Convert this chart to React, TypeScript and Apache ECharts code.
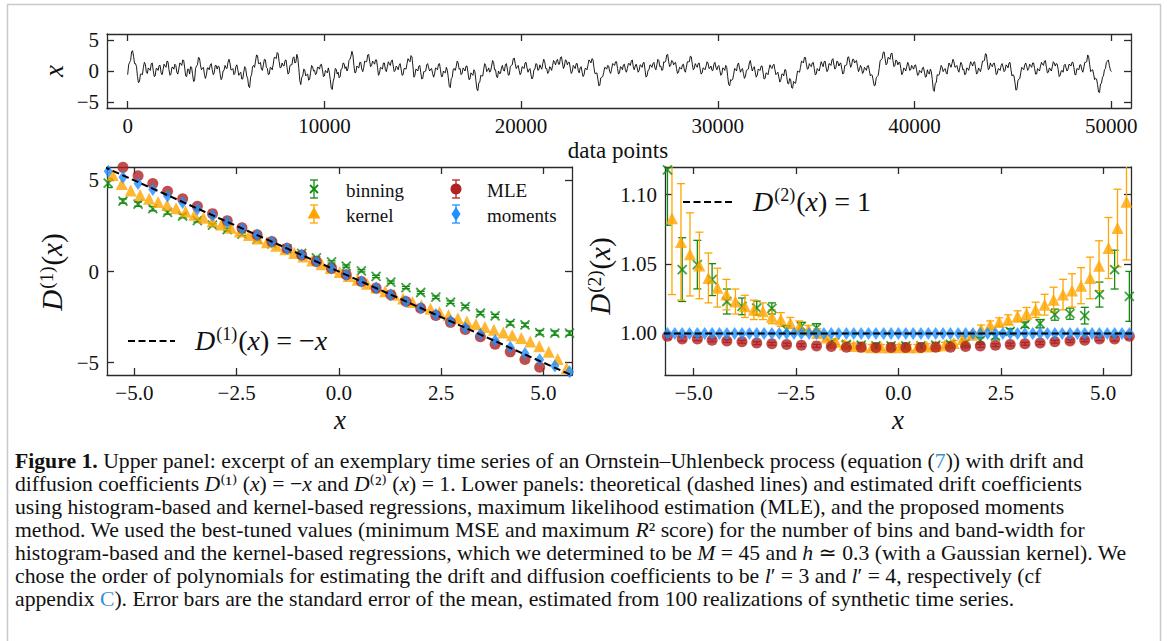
import React, { useEffect, useRef } from 'react';
import * as echarts from 'echarts';

// ---------- DATA ----------
// Upper panel: excerpt of the time series, one value every TS_STEP data points
const TS_STEP = 50;
const tsValues = [
  -0.6, 1.0, 1.4, 1.7, 3.1, 3.3, 2.4, 1.2, 1.2, 0.7, -0.9, -1.9, -1.7, -0.5, -0.5, -0.6, 0.6, 1.4, 1.1, -0.2, -0.4, 0.5, 0.3, 0.1, 1.2, 1.3, 0.1, -0.9, -0.8, 0.4, 0.4, 0.1, 0.9, 0.9, -0.3, -0.6, 0.2, 1.1, 0.8, 0.6,
  1.6, 1.5, 0.2, -0.7, -0.5, 0.6, 0.6, 0.3, 1.1, 0.9, -0.2, -0.5, 0.3, 1.3, 1.2, 0.9, 1.8, 1.7, 0.5, -0.8, -0.9, 0.3, 0.3, -0.5, 0.7, 0.6, -0.6, -1.7, -1.6, 0.4, 0.8, 1.0, 2.2, 2.1, 1.0, 0.2, 0.4, 0.6, -0.5, -1.2,
  -0.7, 0.5, 0.5, 0.2, 1.0, 1.2, 0.2, -0.6, -0.3, 0.9, 0.9, 0.3, 0.8, 0.7, -0.5, -1.4, -1.1, 0.0, 0.1, 0.9, 0.5, 0.4, 1.4, 1.9, 1.3, 0.2, 0.2, 0.4, -0.6, -0.4, 0.7, 1.0, 0.2, -0.7, -0.4, -0.2, -1.3, -1.3, -0.2, 0.7,
  0.4, -0.8, -1.2, -2.5, -2.7, -1.0, -0.6, 0.7, 0.9, 0.6, 1.6, 2.6, 2.5, 1.2, 1.2, 1.4, 0.3, 0.1, 1.0, 1.9, 1.8, 0.6, 0.4, -0.6, -0.5, 0.6, 0.5, 0.2, 1.1, 2.2, 2.2, 2.0, 3.0, 2.8, 1.5, 0.5, 0.6, 1.3, 0.9, 0.8,
  1.7, 1.8, 0.6, -0.5, -0.3, 0.9, 1.0, 1.0, 2.1, 2.3, 1.3, 1.4, 2.7, 2.1, 0.4, -1.6, -2.2, -1.0, -0.8, 0.3, 0.2, -0.8, -0.6, -0.5, -1.5, -1.3, -0.2, 0.9, 0.7, 0.0, 0.1, -0.6, -0.4, 0.6, 0.6, 0.3, 1.0, 1.1, 0.2, -0.9,
  -0.8, 0.1, -0.1, -0.3, 0.5, -0.2, -1.4, -2.8, -3.0, -1.6, -1.1, 0.4, 0.3, -0.5, -0.2, -1.1, -0.9, 0.3, 0.4, 1.3, 1.2, 0.4, 0.7, 0.0, 0.4, 1.7, 1.9, 2.4, 3.2, 2.6, 0.9, -0.3, -0.2, 0.8, 0.6, 0.5, 1.4, 1.4, 0.3, -0.1,
  0.6, 1.6, 1.5, 1.5, 2.6, 2.7, 1.6, 0.7, 0.9, 1.6, 1.4, 1.1, 1.8, 1.8, 0.6, -0.7, -0.4, 0.6, 0.5, 0.3, 1.3, 1.3, 0.2, -0.1, 0.7, 1.5, 1.2, 0.9, 1.6, 1.8, 0.8, -0.1, 0.1, 0.8, 0.6, 0.2, 0.9, 1.2, 0.3, -0.7,
  -0.6, 0.4, 0.4, 0.3, 1.2, 2.0, 1.7, 1.5, 2.5, 2.3, 0.8, -1.0, -0.7, 0.3, 0.2, 0.0, 0.8, 0.9, -0.3, -1.3, -1.2, -0.1, -0.1, 0.0, 1.0, 1.2, 0.5, 0.0, 0.3, 0.4, -0.4, -1.0, -0.5, 0.5, 0.4, 0.2, 1.1, 1.2, 0.2, -0.9,
  -0.9, 0.0, -0.2, -0.3, 0.6, 0.1, -1.1, -2.5, -2.7, -1.2, -1.0, 0.3, 0.4, 0.1, 0.7, 1.6, 1.3, 0.3, 0.4, -0.6, -0.4, 0.5, 0.3, 0.0, 0.8, 0.8, -0.3, -1.4, -1.3, -0.3, -0.5, -0.7, 0.2, -0.1, -1.5, -2.9, -3.2, -1.9, -1.8, -0.7,
  -0.8, -0.8, 0.3, 1.2, 0.9, -0.1, 0.1, 0.5, -0.2, 0.0, 0.8, 1.7, 1.4, 0.2, 0.2, -0.9, -1.1, 0.0, -0.4, -0.4, 0.5, 0.9, 0.1, 0.0, 1.0, 1.2, 0.3, -0.7, -0.6, 0.7, 0.9, 1.0, 2.0, 2.1, 1.2, 0.4, 0.7, 0.9, 0.1, -0.6,
  -0.3, 0.7, 0.6, 0.4, 1.3, 1.4, 0.5, -0.2, 0.2, 0.4, -0.6, -1.3, -1.0, 0.2, 0.3, 1.2, 1.1, 0.1, 0.2, 1.0, 0.6, 0.3, 1.2, 1.9, 1.5, 0.4, 0.4, -0.4, -0.2, 0.7, 0.5, 0.1, 0.9, 1.7, 1.4, 1.0, 1.7, 1.9, 1.1, 1.1,
  2.2, 2.3, 1.3, 0.4, 0.8, 1.8, 1.7, 1.0, 1.4, 1.4, 0.4, -0.4, -0.1, 0.9, 0.7, 0.4, 1.2, 1.2, 0.1, -0.3, 0.5, 0.7, -0.2, -0.9, -0.6, 0.4, 0.4, 0.2, 1.0, 1.8, 1.6, 1.3, 2.0, 1.9, 0.6, -0.4, -0.4, -0.3, -1.3, -2.4,
  -2.3, -1.1, -1.0, -0.9, -0.2, 0.6, 0.5, 0.3, 0.9, 0.8, -0.1, -0.4, 0.3, 1.2, 1.1, 0.9, 1.5, 1.5, 0.4, -0.5, -0.3, 0.7, 0.6, 0.2, 1.0, 1.1, 0.2, -0.2, 0.4, 1.2, 1.2, 0.9, 1.6, 1.8, 0.7, 0.2, 0.8, 1.1, 0.5, -0.2,
  0.1, 1.0, 0.9, 0.6, 1.3, 1.4, 0.1, -1.0, -0.8, 0.1, 0.2, 1.0, 0.9, 0.6, 1.2, 1.4, 0.5, 0.2, 1.0, 1.9, 1.7, 0.7, 0.8, 0.1, 0.2, 1.5, 1.4, 1.6, 2.6, 2.7, 1.5, 0.7, 0.9, 1.7, 1.6, 1.0, 1.3, 1.4, 0.4, -0.4,
  -0.2, 0.6, 0.5, 0.3, 1.0, 1.1, 0.1, -0.2, 0.6, 1.5, 1.5, 1.5, 2.4, 2.3, 1.1, 0.2, 0.4, 1.2, 0.9, 0.6, 1.2, 1.3, 0.3, -0.5, -0.3, 0.5, 0.4, 0.2, 0.8, 1.5, 1.3, 0.4, 0.5, 0.8, 0.1, 0.1, 1.1, 1.4, 0.6, 0.2,
  0.7, 0.9, 0.1, -0.7, -0.5, 0.5, 0.4, 0.1, 0.9, 0.6, -0.9, -2.2, -2.4, -1.4, -1.5, -1.4, -0.6, 0.4, 0.3, 0.0, 1.0, 1.3, 0.5, -0.2, 0.2, 0.4, -0.4, -1.2, -0.9, 0.1, 0.2, 0.3, 1.3, 1.7, 0.8, 0.0, 0.4, 0.7, -0.2, -1.0,
  -0.7, 0.3, 0.2, 0.1, 0.8, 0.8, -0.3, -1.3, -1.2, -0.3, -0.4, -0.6, 0.3, 1.0, 0.6, 0.4, 0.9, 1.1, 0.2, -0.6, -0.4, -0.2, -1.0, -1.8, -1.5, -0.5, -0.5, -0.8, 0.2, 0.2, -0.9, -2.0, -2.1, -1.2, -1.4, -2.7, -2.8, -1.7, -1.9, -2.0,
  -1.0, 0.0, -0.1, -0.2, 0.6, 1.6, 1.5, 1.3, 2.2, 2.2, 1.1, 0.3, 0.4, 1.2, 0.9, 0.7, 1.3, 1.4, 0.4, -0.6, -0.5, 0.4, 0.2, 0.0, 0.7, 1.5, 1.1, 0.7, 1.5, 1.6, 0.6, -0.1, 0.2, 1.2, 1.1, 0.9, 1.8, 2.0, 1.0, 0.3,
  0.6, 1.6, 1.5, 0.8, 1.2, 1.3, 0.3, -0.5, -0.3, 0.9, 0.9, 1.0, 2.2, 2.3, 1.4, 0.6, 1.0, 1.9, 1.9, 1.3, 1.6, 1.7, 0.7, -0.1, 0.3, 0.9, 0.6, -0.4, -0.2, 0.6, 0.4, 0.1, 0.8, 0.9, 0.1, -0.8, -0.6, -0.7, -1.6, -2.4,
  -2.3, -1.1, -0.9, -0.7, 0.4, 1.7, 1.8, 2.0, 3.0, 3.1, 2.0, 1.0, 1.2, 2.2, 2.1, 1.9, 2.8, 2.9, 1.7, 0.7, 0.9, 1.8, 1.6, 1.0, 1.4, 1.4, 0.4, -0.6, -0.3, 0.5, 0.3, 0.0, 0.7, 1.4, 1.0, 0.1, 0.2, 0.9, 0.6, 0.3,
  0.9, 1.0, 0.2, -0.7, -0.6, 0.1, -0.1, -0.3, 0.5, 0.6, -0.2, -1.0, -0.9, 0.2, -0.3, -0.5, 0.3, -0.1, -1.4, -3.0, -3.3, -2.0, -1.9, -0.6, -0.7, -0.6, 0.1, 0.9, 0.6, -0.1, 0.2, 0.4, -0.2, -0.5, 0.5, 1.3, 1.0, 0.6, 1.2, 1.9,
  1.5, 0.6, 0.7, 0.9, 0.2, -0.2, 0.6, 1.4, 1.1, 0.2, 0.3, -0.6, -0.5, 0.5, 0.4, 0.1, 0.8, 1.5, 1.2, 0.8, 1.4, 1.5, 0.5, -0.5, -0.3, 0.5, 0.2, -0.1, 0.6, 1.6, 1.6, 1.7, 2.8, 2.7, 1.3, 0.2, 0.4, 1.3, 0.9, 0.7,
  1.2, 1.3, 0.5, -0.6, -0.4, 0.4, 0.3, 0.1, 0.9, 1.2, 0.6, -0.1, 0.1, 1.0, 0.8, 0.5, 1.3, 1.4, 0.2, -0.8, -0.6, -0.8, -1.8, -3.1, -3.0, -1.6, -1.3, -1.2, -0.2, 0.6, 0.4, 0.2, 1.0, 1.3, 0.7, 0.1, 0.4, 1.1, 0.9, 0.6,
  1.3, 1.3, 0.4, -0.5, -0.5, 0.4, 0.2, 0.0, 0.8, 1.4, 1.1, 0.9, 1.6, 1.7, 0.6, -0.3, -0.2, 0.5, 0.3, 0.0, 0.7, 1.5, 1.3, 0.8, 1.2, 1.1, 0.2, -0.9, -0.7, 0.0, 0.1, -0.2, 0.9, 1.1, 0.5, 0.0, 0.3, 1.1, 1.0, 0.8,
  1.4, 1.4, 0.5, -0.6, -0.6, 0.4, 0.3, 0.2, 1.0, 1.0, 0.2, -0.2, 0.5, 1.4, 1.4, 1.5, 2.6, 2.3, 1.0, -0.1, 0.1, 0.2, -0.5, -1.4, -1.2, -1.3, -2.2, -3.4, -3.5, -2.1, -2.0, -1.0, -0.8, 0.2, 0.4, 1.4, 1.6, 1.8, 0.9, 0.2,
  -0.1,
];
const tsXTicks = [0, 10000, 20000, 30000, 40000, 50000];
const tsYTicks = [-5, 0, 5];

// Lower panels: x positions
const xBins = [-5.64, -5.28, -4.91, -4.55, -4.19, -3.82, -3.46, -3.09, -2.73, -2.37, -2.0, -1.64, -1.27, -0.91, -0.55, -0.18,
  0.18, 0.55, 0.91, 1.27, 1.64, 2.0, 2.37, 2.73, 3.09, 3.46, 3.82, 4.19, 4.55, 4.91, 5.28, 5.64];
const xKernel = [-5.53, -5.31, -5.09, -4.86, -4.64, -4.42, -4.2, -3.98, -3.75, -3.53, -3.31, -3.09, -2.87, -2.64, -2.42, -2.2,
  -1.98, -1.76, -1.53, -1.31, -1.09, -0.87, -0.65, -0.42, -0.2, 0.02, 0.24, 0.46, 0.69, 0.91, 1.13, 1.35, 1.57, 1.8, 2.02,
  2.24, 2.46, 2.68, 2.91, 3.13, 3.35, 3.57, 3.79, 4.02, 4.24, 4.46, 4.68, 4.9, 5.13, 5.35, 5.57];
const xMomentsFine = [-5.64, -5.46, -5.28, -5.1, -4.91, -4.73, -4.55, -4.37, -4.19, -4.0, -3.82, -3.64, -3.46, -3.28, -3.09,
  -2.91, -2.73, -2.55, -2.37, -2.18, -2.0, -1.82, -1.64, -1.46, -1.27, -1.09, -0.91, -0.73, -0.55, -0.36, -0.18, 0.0,
  0.18, 0.36, 0.55, 0.73, 0.91, 1.09, 1.27, 1.46, 1.64, 1.82, 2.0, 2.18, 2.37, 2.55, 2.73, 2.91, 3.09, 3.28, 3.46, 3.64,
  3.82, 4.0, 4.19, 4.37, 4.55, 4.73, 4.91, 5.1, 5.28, 5.46, 5.64];
const lowerXTicks = [-5, -2.5, 0, 2.5, 5];

// Drift D1
const d1Binning = [4.86, 3.87, 3.7, 3.45, 3.25, 3.05, 2.8, 2.55, 2.3, 2.05, 1.78, 1.52, 1.25, 1.0, 0.75, 0.53,
  0.3, 0.04, -0.27, -0.58, -0.88, -1.15, -1.41, -1.68, -1.92, -2.29, -2.43, -2.84, -2.93, -3.35, -3.38, -3.38];
const d1BinningErr = [0.25, 0.12, 0.12, 0.12, 0.1, 0.1, 0.08, 0.08, 0.07, 0.07, 0.06, 0.06, 0.06, 0.06, 0.06, 0.06,
  0.06, 0.06, 0.06, 0.06, 0.06, 0.06, 0.07, 0.07, 0.07, 0.08, 0.08, 0.1, 0.1, 0.12, 0.12, 0.12];
const d1Kernel = [5.3, 4.8, 4.45, 4.2, 4.0, 3.82, 3.65, 3.48, 3.3, 3.12, 2.95, 2.76, 2.58, 2.4, 2.2, 2.01, 1.81, 1.61,
  1.42, 1.22, 1.02, 0.82, 0.61, 0.4, 0.19, -0.02, -0.24, -0.45, -0.67, -0.88, -1.08, -1.28, -1.48, -1.67, -1.86, -2.04,
  -2.22, -2.4, -2.57, -2.74, -2.9, -3.05, -3.2, -3.35, -3.5, -3.65, -3.84, -4.1, -4.4, -4.8, -5.3];
const d1MLE = [6.18, 5.72, 5.26, 4.83, 4.41, 3.99, 3.58, 3.18, 2.79, 2.41, 2.02, 1.65, 1.28, 0.91, 0.55, 0.18,
  -0.18, -0.55, -0.91, -1.28, -1.65, -2.02, -2.41, -2.79, -3.18, -3.58, -3.99, -4.41, -4.83, -5.26, -5.72, -6.18];
const d1Moments = [5.5, 5.18, 4.84, 4.5, 4.15, 3.79, 3.44, 3.08, 2.72, 2.36, 2.0, 1.64, 1.27, 0.91, 0.55, 0.18,
  -0.18, -0.55, -0.91, -1.27, -1.64, -2.0, -2.36, -2.72, -3.08, -3.44, -3.79, -4.15, -4.5, -4.84, -5.18, -5.5];
const d1Theory = [[-6, 6], [6, -6]];
const d1YTicks = [-5, 0, 5];

// Diffusion D2
const d2Binning = [1.118, 1.046, 1.0496, 1.0388, 1.023, 1.0195, 1.0183, 1.018, 1.0027, 1.005, 1.004, 0.993, 0.992, 0.9915,
  0.991, 0.991, 0.991, 0.991, 0.9915, 0.992, 0.993, 0.995, 0.998, 1.0015, 1.0063, 1.007, 1.0135, 1.0142, 1.0128, 1.028,
  1.046, 1.0267];
const d2BinningErr = [0.04, 0.023, 0.0175, 0.0115, 0.009, 0.006, 0.005, 0.004, 0.003, 0.003, 0.003, 0.002, 0.002, 0.002,
  0.002, 0.002, 0.002, 0.002, 0.002, 0.002, 0.002, 0.002, 0.002, 0.002, 0.002, 0.003, 0.004, 0.004, 0.006, 0.009, 0.014,
  0.018];
const d2Kernel = [1.083, 1.066, 1.057, 1.049, 1.04, 1.033, 1.028, 1.023, 1.0195, 1.017, 1.016, 1.012, 1.01, 1.0075, 1.005,
  1.0027, 1.0003, 0.997, 0.994, 0.992, 0.991, 0.9905, 0.99, 0.99, 0.99, 0.99, 0.99, 0.99, 0.9905, 0.991, 0.9915, 0.993,
  0.996, 0.999, 1.003, 1.006, 1.0082, 1.0099, 1.0123, 1.0142, 1.017, 1.0207, 1.0243, 1.028, 1.031, 1.0344, 1.04, 1.0488,
  1.0616, 1.076, 1.095];
const d2KernelErr = [0.055, 0.042, 0.03, 0.024, 0.018, 0.014, 0.011, 0.009, 0.008, 0.007, 0.006, 0.005, 0.005, 0.004,
  0.004, 0.003, 0.003, 0.002, 0.002, 0.002, 0.002, 0.002, 0.002, 0.002, 0.002, 0.002, 0.002, 0.002, 0.002, 0.002, 0.002,
  0.002, 0.002, 0.002, 0.003, 0.003, 0.003, 0.0035, 0.004, 0.0045, 0.0055, 0.0075, 0.009, 0.011, 0.012, 0.013, 0.015,
  0.018, 0.022, 0.028, 0.042];
const d2MLE = [0.998, 0.996, 0.996, 0.995, 0.9945, 0.994, 0.993, 0.9925, 0.992, 0.9915, 0.991, 0.9905, 0.99, 0.99, 0.9898,
  0.9898, 0.9898, 0.9898, 0.99, 0.99, 0.9905, 0.991, 0.9915, 0.992, 0.9925, 0.993, 0.994, 0.9945, 0.995, 0.996, 0.996,
  0.998];
const d2MLEErr = [0.002, 0.0015, 0.0012, 0.001, 0.001, 0.001, 0.001, 0.001, 0.001, 0.001, 0.001, 0.001, 0.001, 0.001,
  0.001, 0.001, 0.001, 0.001, 0.001, 0.001, 0.001, 0.001, 0.001, 0.001, 0.001, 0.001, 0.001, 0.001, 0.001, 0.0012,
  0.0015, 0.002];
const d2Moments = [1.0, 1.0, 1.0, 1.0, 1.0, 1.0, 1.0, 1.0, 1.0, 1.0, 1.0, 1.0, 1.0, 1.0, 1.0, 1.0, 1.0, 1.0, 1.0, 1.0,
  1.0, 1.0, 1.0, 1.0, 1.0, 1.0, 1.0, 1.0, 1.0, 1.0, 1.0, 1.0, 1.0, 1.0, 1.0, 1.0, 1.0, 1.0, 1.0, 1.0, 1.0, 1.0, 1.0,
  1.0, 1.0, 1.0, 1.0, 1.0, 1.0, 1.0, 1.0, 1.0, 1.0, 1.0, 1.0, 1.0, 1.0, 1.0, 1.0, 1.0, 1.0, 1.0, 1.0];
const d2Theory = [[-6, 1], [6, 1]];
const d2YTicks = [1.0, 1.05, 1.1];

// ---------- STYLE ----------
const SERIF = '"Liberation Serif", "DejaVu Serif", serif';
const AX = '#2b2b2b';
const C_BIN = '#138a13';
const C_KER = '#FFA500';
const C_MLE = '#B22222';
const C_MOM = '#1E90FF';
const TXT = '#111';
const LINK = '#3a8fd3';
const CAP_FS = 21.7;

const minus = (s: string) => s.replace('-', '\u2212');

function axisPair(dim: 'x' | 'y', gridIndex: number, min: number, max: number, ticks: number[], fmt: (v: number) => string) {
  const main: any = {
    type: 'value', gridIndex, min, max,
    position: dim === 'x' ? 'bottom' : 'left',
    axisLine: { show: true, onZero: false, lineStyle: { color: AX, width: 1.3 } },
    axisTick: { show: true, inside: true, length: 7, customValues: ticks, lineStyle: { color: AX, width: 1.3 } },
    axisLabel: { show: true, customValues: ticks, formatter: fmt, fontFamily: SERIF, fontSize: 21, color: TXT, margin: dim === 'x' ? 7 : 8 },
    splitLine: { show: false },
  };
  const mirror: any = { ...main, position: dim === 'x' ? 'top' : 'right', axisLabel: { show: false } };
  return [main, mirror];
}

function errSeries(xs: number[], ys: number[], errs: number[], color: string, axis: number, capW = 4) {
  return {
    type: 'custom', xAxisIndex: axis, yAxisIndex: axis, clip: true, silent: true,
    data: xs.map((x, i) => [x, ys[i] - errs[i], ys[i] + errs[i]]),
    encode: { x: 0, y: [1, 2] },
    renderItem: (_p: any, api: any) => {
      const x = api.value(0);
      const lo = api.coord([x, api.value(1)]);
      const hi = api.coord([x, api.value(2)]);
      const style = { stroke: color, lineWidth: 1.3, fill: null };
      return {
        type: 'group',
        children: [
          { type: 'line', shape: { x1: lo[0], y1: lo[1], x2: hi[0], y2: hi[1] }, style },
          { type: 'line', shape: { x1: lo[0] - capW, y1: lo[1], x2: lo[0] + capW, y2: lo[1] }, style },
          { type: 'line', shape: { x1: hi[0] - capW, y1: hi[1], x2: hi[0] + capW, y2: hi[1] }, style },
        ],
      };
    },
  };
}

const CROSS = 'path://M0,0L10,10M10,0L0,10';

function markers(xs: number[], ys: number[], kind: 'bin' | 'ker' | 'mle' | 'mom', axis: number) {
  const base: any = { type: 'scatter', xAxisIndex: axis, yAxisIndex: axis, clip: true, silent: true, data: xs.map((x, i) => [x, ys[i]]) };
  if (kind === 'bin') return { ...base, symbol: CROSS, symbolSize: 9, itemStyle: { color: 'rgba(0,0,0,0)', borderColor: C_BIN, borderWidth: 1.8 } };
  if (kind === 'ker') return { ...base, symbol: 'triangle', symbolSize: 12, itemStyle: { color: C_KER } };
  if (kind === 'mle') return { ...base, symbol: 'circle', symbolSize: 11, itemStyle: { color: C_MLE } };
  return { ...base, symbol: 'diamond', symbolSize: [9, 13], itemStyle: { color: C_MOM } };
}

function dashed(data: number[][], axis: number) {
  return {
    type: 'line', xAxisIndex: axis, yAxisIndex: axis, data, symbol: 'none', silent: true, clip: true,
    lineStyle: { color: '#000', width: 2, type: [7, 3.5] },
  };
}

function mathRich(fs: number, sfs: number, lift: number) {
  return {
    n: { fontFamily: SERIF, fontSize: fs, fill: TXT, lineHeight: fs, verticalAlign: 'bottom' },
    i: { fontFamily: SERIF, fontSize: fs, fill: TXT, lineHeight: fs, fontStyle: 'italic', verticalAlign: 'bottom' },
    s: { fontFamily: SERIF, fontSize: sfs, fill: TXT, lineHeight: sfs, padding: [0, 1, lift, 1], verticalAlign: 'bottom' },
  };
}

function legendErrHandle(cx: number, cy: number, color: string) {
  const st = { stroke: color, lineWidth: 1.3 };
  return [
    { type: 'line', shape: { x1: cx, y1: cy - 9, x2: cx, y2: cy + 9 }, style: st },
    { type: 'line', shape: { x1: cx - 4, y1: cy - 9, x2: cx + 4, y2: cy - 9 }, style: st },
    { type: 'line', shape: { x1: cx - 4, y1: cy + 9, x2: cx + 4, y2: cy + 9 }, style: st },
  ];
}

const captionRich = {
  b: { fontFamily: SERIF, fontSize: CAP_FS, fontWeight: 'bold', fill: TXT },
  i: { fontFamily: SERIF, fontSize: CAP_FS, fontStyle: 'italic', fill: TXT },
  l: { fontFamily: SERIF, fontSize: CAP_FS, fill: LINK },
};
const captionLines = [
  '{b|Figure 1.} Upper panel: excerpt of an exemplary time series of an Ornstein\u2013Uhlenbeck process (equation ({l|7})) with drift and',
  'diffusion coefficients {i|D}\u207D\u00B9\u207E ({i|x}) = \u2212{i|x} and {i|D}\u207D\u00B2\u207E ({i|x}) = 1. Lower panels: theoretical (dashed lines) and estimated drift coefficients',
  'using histogram-based and kernel-based regressions, maximum likelihood estimation (MLE), and the proposed moments',
  'method. We used the best-tuned values (minimum MSE and maximum {i|R}\u00B2 score) for the number of bins and band-width for',
  'histogram-based and the kernel-based regressions, which we determined to be {i|M} = 45 and {i|h} \u2243 0.3 (with a Gaussian kernel). We',
  'chose the order of polynomials for estimating the drift and diffusion coefficients to be {i|l}\u2032 = 3 and {i|l}\u2032 = 4, respectively (cf',
  'appendix {l|C}). Error bars are the standard error of the mean, estimated from 100 realizations of synthetic time series.',
];

function buildOption(): any {
  const xAxis = [
    ...axisPair('x', 0, -1050, 51000, tsXTicks, (v) => String(v)),
    ...axisPair('x', 1, -5.67, 5.7, lowerXTicks, (v) => minus(v.toFixed(1))),
    ...axisPair('x', 2, -5.7, 5.68, lowerXTicks, (v) => minus(v.toFixed(1))),
  ];
  const yAxis = [
    ...axisPair('y', 0, -6, 6, tsYTicks, (v) => minus(String(v))),
    ...axisPair('y', 1, -5.68, 5.74, d1YTicks, (v) => minus(String(v))),
    ...axisPair('y', 2, 0.97, 1.12, d2YTicks, (v) => v.toFixed(2)),
  ];
  const series: any[] = [
    {
      type: 'line', xAxisIndex: 0, yAxisIndex: 0, symbol: 'none', silent: true,
      data: tsValues.map((v, i) => [i * TS_STEP, v]),
      lineStyle: { color: '#000', width: 0.9 },
    },
    // drift panel (axis index 2)
    errSeries(xBins, d1Binning, d1BinningErr, C_BIN, 2),
    markers(xBins, d1Binning, 'bin', 2),
    markers(xKernel, d1Kernel, 'ker', 2),
    markers(xBins, d1MLE, 'mle', 2),
    markers(xBins, d1Moments, 'mom', 2),
    dashed(d1Theory, 2),
    // diffusion panel (axis index 4)
    errSeries(xBins, d2Binning, d2BinningErr, C_BIN, 4),
    markers(xBins, d2Binning, 'bin', 4),
    errSeries(xKernel, d2Kernel, d2KernelErr, C_KER, 4),
    markers(xKernel, d2Kernel, 'ker', 4),
    errSeries(xBins, d2MLE, d2MLEErr, C_MLE, 4),
    markers(xBins, d2MLE, 'mle', 4),
    markers(xMomentsFine, d2Moments, 'mom', 4),
    dashed(d2Theory, 4),
  ];

  const g: any[] = [];
  g.push({ type: 'rect', shape: { x: 7.5, y: 4.5, width: 1153, height: 700 }, style: { fill: 'none', stroke: '#c9c9c9', lineWidth: 1.5 }, silent: true });
  // axis titles
  g.push({ type: 'text', x: 54, y: 71, rotation: Math.PI / 2, style: { text: 'x', fontFamily: SERIF, fontStyle: 'italic', fontSize: 27, fill: TXT, align: 'center', verticalAlign: 'middle' } });
  g.push({ type: 'text', x: 618, y: 150, style: { text: 'data points', fontFamily: SERIF, fontSize: 23, fill: TXT, align: 'center', verticalAlign: 'middle' } });
  g.push({ type: 'text', x: 52, y: 272, rotation: Math.PI / 2, style: { text: '{i|D}{s|(1)}{n|(}{i|x}{n|)}', rich: mathRich(29, 19, 11), align: 'center', verticalAlign: 'middle' } });
  g.push({ type: 'text', x: 600, y: 276, rotation: Math.PI / 2, style: { text: '{i|D}{s|(2)}{n|(}{i|x}{n|)}', rich: mathRich(29, 19, 11), align: 'center', verticalAlign: 'middle' } });
  g.push({ type: 'text', x: 340, y: 420, style: { text: 'x', fontFamily: SERIF, fontStyle: 'italic', fontSize: 27, fill: TXT, align: 'center', verticalAlign: 'middle' } });
  g.push({ type: 'text', x: 898, y: 420, style: { text: 'x', fontFamily: SERIF, fontStyle: 'italic', fontSize: 27, fill: TXT, align: 'center', verticalAlign: 'middle' } });

  // drift legend
  const legTxt = (x: number, y: number, t: string) => ({ type: 'text', x, y, style: { text: t, fontFamily: SERIF, fontSize: 19, fill: TXT, align: 'left', verticalAlign: 'middle' } });
  g.push(...legendErrHandle(314, 189, C_BIN));
  g.push({ type: 'line', shape: { x1: 310, y1: 185, x2: 318, y2: 193 }, style: { stroke: C_BIN, lineWidth: 1.8 } });
  g.push({ type: 'line', shape: { x1: 318, y1: 185, x2: 310, y2: 193 }, style: { stroke: C_BIN, lineWidth: 1.8 } });
  g.push(legTxt(346, 190, 'binning'));
  g.push(...legendErrHandle(314, 214, C_KER));
  g.push({ type: 'polygon', shape: { points: [[314, 207], [307.5, 218.5], [320.5, 218.5]] }, style: { fill: C_KER } });
  g.push(legTxt(346, 215, 'kernel'));
  g.push(...legendErrHandle(456, 189, C_MLE));
  g.push({ type: 'circle', shape: { cx: 456, cy: 189, r: 5.5 }, style: { fill: C_MLE } });
  g.push(legTxt(487, 190, 'MLE'));
  g.push(...legendErrHandle(456, 214, C_MOM));
  g.push({ type: 'polygon', shape: { points: [[456, 207], [460.5, 214], [456, 221], [451.5, 214]] }, style: { fill: C_MOM } });
  g.push(legTxt(487, 215, 'moments'));
  // theory legends
  g.push({ type: 'line', shape: { x1: 128, y1: 341, x2: 175, y2: 341 }, style: { stroke: '#000', lineWidth: 2, lineDash: [7, 3.5] } });
  g.push({ type: 'text', x: 195, y: 340, style: { text: '{i|D}{s|(1)}{n|(}{i|x}{n|) = \u2212}{i|x}', rich: mathRich(28, 18, 11), align: 'left', verticalAlign: 'middle' } });
  g.push({ type: 'line', shape: { x1: 683, y1: 202, x2: 732, y2: 202 }, style: { stroke: '#000', lineWidth: 2, lineDash: [7, 3.5] } });
  g.push({ type: 'text', x: 753, y: 201, style: { text: '{i|D}{s|(2)}{n|(}{i|x}{n|) = 1}', rich: mathRich(28, 18, 11), align: 'left', verticalAlign: 'middle' } });

  // caption
  captionLines.forEach((line, k) => {
    g.push({ type: 'text', x: 15, y: 461 + k * 23, style: { text: line, rich: captionRich, fontFamily: SERIF, fontSize: CAP_FS, fill: TXT, align: 'left', verticalAlign: 'middle' } });
  });

  return {
    animation: false,
    backgroundColor: '#fff',
    grid: [
      { left: 107, top: 34, width: 1024, height: 74 },
      { left: 107, top: 167, width: 465, height: 208 },
      { left: 665, top: 167, width: 466, height: 208 },
    ],
    xAxis,
    yAxis,
    series,
    graphic: { elements: g },
  };
}

export default function App() {
  const ref = useRef<HTMLDivElement>(null);
  useEffect(() => {
    document.body.style.margin = '0';
    const chart = echarts.init(ref.current as HTMLDivElement, undefined, { renderer: 'svg' });
    chart.setOption(buildOption());
    return () => chart.dispose();
  }, []);
  return <div ref={ref} style={{ width: 1167, height: 641, background: '#fff' }} />;
}
